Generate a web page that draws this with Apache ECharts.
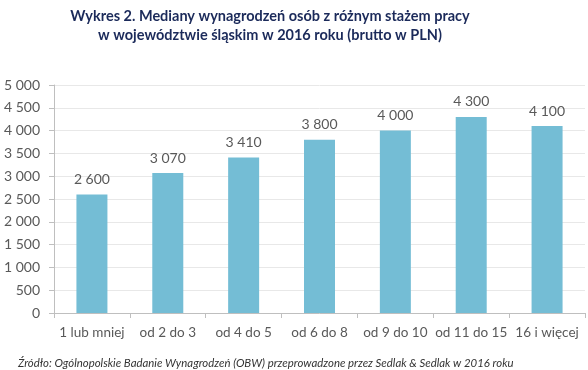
<!DOCTYPE html>
<html><head><meta charset="utf-8">
<script src="https://cdn.jsdelivr.net/npm/echarts@6/dist/echarts.min.js"></script>
<style>html,body{margin:0;padding:0;background:#fff}#c{width:588px;height:370px}</style>
</head><body><div id="c"></div>
<script>
const categories = ['1 lub mniej','od 2 do 3','od 4 do 5','od 6 do 8','od 9 do 10','od 11 do 15','16 i więcej'];
const values = [2600, 3070, 3410, 3800, 4000, 4300, 4100];
const titleLines = ['Wykres 2. Mediany wynagrodzeń osób z różnym stażem pracy','w województwie śląskim w 2016 roku (brutto w PLN)'];
const sourceText = 'Źródło: Ogólnopolskie Badanie Wynagrodzeń (OBW) przeprowadzone przez Sedlak & Sedlak w 2016 roku';
const fmt = v => String(v).replace(/\B(?=(\d{3})+(?!\d))/g, ' ');
const chart = echarts.init(document.getElementById('c'), null, {renderer:'canvas'});
const FONT = 'Lato, "Open Sans", sans-serif';
chart.setOption({
  animation:false,
  textStyle:{fontFamily:FONT},
  title:[{
    text: titleLines.join('\n'), left: 265, top: 2, textAlign:'center',
    textStyle:{fontFamily:FONT, fontSize:14.5, fontWeight:'bold', color:'#1b2a5a', lineHeight:19}
  },{
    text: sourceText, left: 13, top: 353,
    textStyle:{fontFamily:FONT, fontSize:11.4, fontStyle:'italic', fontWeight:'normal', color:'#333'}
  }],
  grid:{left:54, right:3, top:85, bottom:57, containLabel:false},
  xAxis:{
    type:'category', data:categories,
    axisLine:{lineStyle:{color:'#bfbfbf'}},
    axisTick:{show:true, length:5, alignWithLabel:false, lineStyle:{color:'#bfbfbf'}},
    axisLabel:{color:'#595959', fontSize:13.5, margin:13, interval:0, fontFamily:FONT}
  },
  yAxis:{
    type:'value', min:0, max:5000, interval:500,
    axisLine:{show:true, lineStyle:{color:'#bfbfbf'}},
    axisTick:{show:true, length:5, lineStyle:{color:'#bfbfbf'}},
    axisLabel:{color:'#595959', fontSize:14, margin:14, formatter:fmt, fontFamily:FONT},
    splitLine:{lineStyle:{color:'#e8e8e8'}}
  },
  series:[{
    type:'bar', data:values, barWidth:31,
    itemStyle:{color:'#74bdd5'},
    label:{show:true, position:'top', distance:8, color:'#595959', fontSize:14, formatter:p=>fmt(p.value), fontFamily:FONT}
  }]
});
</script></body></html>
